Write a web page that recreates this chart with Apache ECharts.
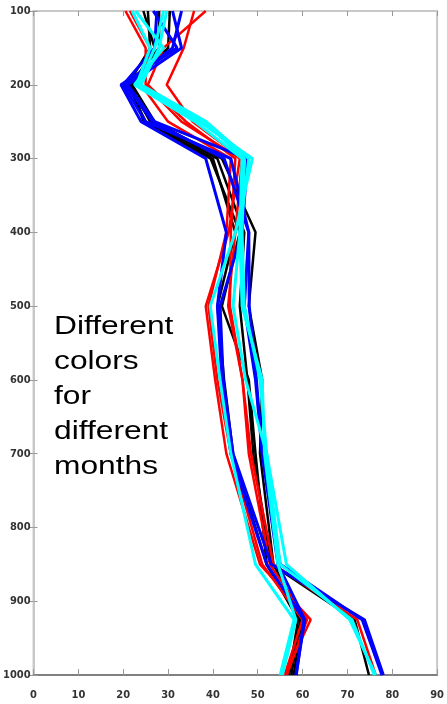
<!DOCTYPE html>
<html>
<head>
<meta charset="utf-8">
<script src="https://cdn.jsdelivr.net/npm/echarts@6/dist/echarts.min.js"></script>
<style>
  html, body { margin: 0; padding: 0; background: #fff; }
  #main { width: 447px; height: 704px; }
</style>
</head>
<body>
<div id="main"></div>
<script>
// pressure levels (y axis, inverted)
var levels = [100, 150, 200, 250, 300, 400, 500, 600, 700, 850, 925, 1000];
var xTicks = [0, 10, 20, 30, 40, 50, 60, 70, 80, 90];

// profiles, one array per line, same order as levels
var black1 = [25.5, 26, 21, 25, 40, 45, 41, 42.5, 44.5, 52, 59.5, 57.5];
var black2 = [30.4, 30, 22, 27, 42, 49.5, 48, 51, 50.5, 53.5, 60, 58];
var black3 = [28, 28, 21.5, 26, 41, 47, 46, 47.7, 49, 53, 71.6, 74.8];
var black4 = [24.5, 27, 22, 24.5, 39.5, 46, 42, 48, 49.5, 52, 59, 57];

var red1 = [20.5, 25, 25, 33, 46, 43.5, 38.4, 40.5, 43, 50.5, 61.8, 56];
var red2 = [35.8, 33.5, 29.7, 35.5, 46.5, 45, 43.4, 46.6, 48, 52.7, 61, 56.5];
var red3 = [38.4, 29, 25.5, 34, 45, 44, 43.8, 46.6, 48.5, 53.5, 72.2, 76.3];
var red4 = [21.5, 26, 24, 30, 44, 43, 39, 41, 44, 51, 60, 56];

var blue1 = [26.7, 32, 19.5, 24, 38.4, 43, 41, 42, 44, 52, 60.3, 58.6];
var blue2 = [33, 31, 20.5, 26.5, 42.5, 48, 48.1, 49.7, 51, 55, 73.3, 77.7];
var blue3 = [31, 33, 21, 27, 47.7, 46.5, 41.6, 42.3, 44.5, 53, 73.8, 78];
var blue4 = [27.5, 27, 20, 25, 44, 48, 47, 49.5, 51, 54.5, 60.5, 58.5];

var cyan1 = [22, 26, 23, 37, 48.8, 45, 39.4, 41.6, 44, 49.5, 58.1, 55];
var cyan2 = [29.7, 28, 24, 38.5, 48, 46, 44.5, 47.3, 52, 56.4, 70.5, 76.3];
var cyan3 = [29, 27, 23.5, 38, 47, 46.5, 47, 50.5, 52, 55, 71, 76];
var cyan4 = [22.8, 29, 22.5, 36, 46.5, 46, 46.5, 51, 51.5, 54.5, 58.5, 55.5];

var groups = [
  { color: '#000000', width: 2.5, lines: [black1, black2, black3, black4] },
  { color: '#ff0000', width: 2.5, lines: [red1, red2, red3, red4] },
  { color: '#0000ff', width: 3, lines: [blue1, blue2, blue3, blue4] },
  { color: '#00ffff', width: 3, lines: [cyan1, cyan2, cyan3, cyan4] }
];

var labelFont = "'Liberation Sans Narrow', 'DejaVu Sans Condensed', sans-serif";

var series = [];
groups.forEach(function (g) {
  g.lines.forEach(function (vals) {
    series.push({
      type: 'line',
      xAxisIndex: 0,
      yAxisIndex: 0,
      data: vals.map(function (v, i) { return [v, levels[i]]; }),
      showSymbol: false,
      animation: false,
      lineStyle: { color: g.color, width: g.width },
      itemStyle: { color: g.color }
    });
  });
});

var chart = echarts.init(document.getElementById('main'));
chart.setOption({
  backgroundColor: '#fff',
  animation: false,
  grid: { left: 25, right: 7, top: 11, bottom: 29, show: true, borderColor: '#c8c8c8', borderWidth: 2 },
  xAxis: [{
    type: 'value', min: 0, max: 90, interval: 10, position: 'bottom',
    axisLine: { show: true, lineStyle: { color: '#808080', width: 2 } },
    axisTick: { show: true, inside: true, length: 6, lineStyle: { color: '#999' } },
    axisLabel: { color: '#333', fontSize: 11, fontWeight: 'bold', fontFamily: labelFont, margin: 15,
      formatter: function (v) { return xTicks.indexOf(v) >= 0 ? String(v) : ''; } },
    splitLine: { show: false }
  }, {
    type: 'value', min: 0, max: 90, interval: 10, position: 'top',
    axisLine: { show: true, lineStyle: { color: '#c8c8c8', width: 2 } },
    axisTick: { show: true, inside: true, length: 5, lineStyle: { color: '#999' } },
    axisLabel: { show: false },
    splitLine: { show: false }
  }],
  yAxis: [{
    type: 'value', min: 100, max: 1000, interval: 100, inverse: true, position: 'left',
    axisLine: { show: true, lineStyle: { color: '#c8c8c8', width: 2 } },
    axisTick: { show: true, inside: true, length: 4, lineStyle: { color: '#999' } },
    axisLabel: { color: '#333', fontSize: 11, fontWeight: 'bold', fontFamily: labelFont, margin: 3,
      formatter: function (v) { return String(v); } },
    splitLine: { show: false }
  }, {
    type: 'value', min: 100, max: 1000, interval: 100, inverse: true, position: 'right',
    axisLine: { show: true, lineStyle: { color: '#c8c8c8', width: 2 } },
    axisTick: { show: true, inside: true, length: 4, lineStyle: { color: '#999' } },
    axisLabel: { show: false },
    splitLine: { show: false }
  }],
  graphic: [{
    type: 'text',
    x: 54,
    y: 310,
    scaleX: 1.27,
    z: 100,
    style: {
      text: 'Different\ncolors\nfor\ndifferent\nmonths',
      font: "25px 'Liberation Sans', Arial, sans-serif",
      lineHeight: 35,
      fill: '#000'
    }
  }],
  series: series
});
</script>
</body>
</html>
